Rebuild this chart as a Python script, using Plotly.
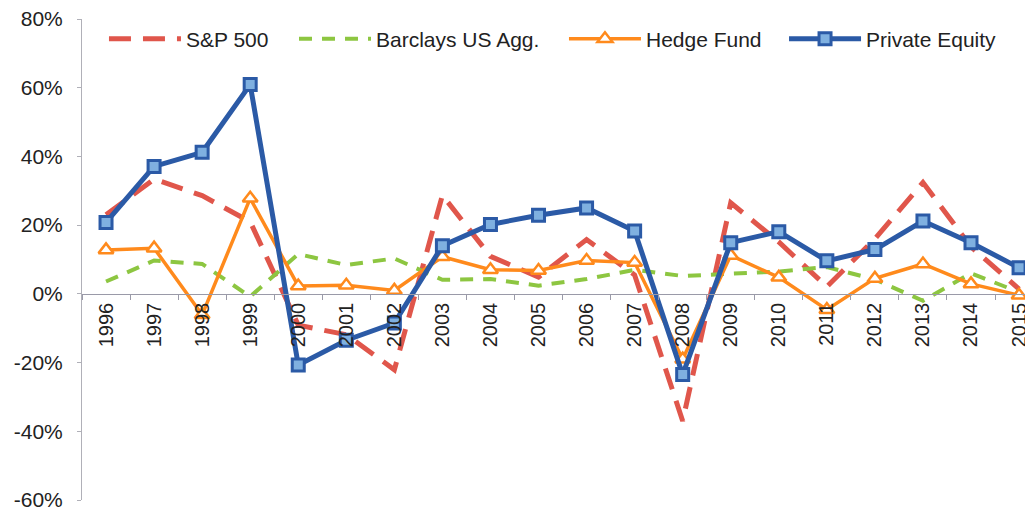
import plotly.graph_objects as go

years = [str(y) for y in range(1996, 2016)]
sp500 = [23.0, 33.4, 28.6, 21.0, -9.1, -11.9, -22.1, 28.7, 10.9, 4.9,
         15.8, 5.5, -37.0, 26.5, 15.1, 2.1, 16.0, 32.4, 13.7, 1.4]
barclays = [3.6, 9.7, 8.7, -0.8, 11.6, 8.4, 10.3, 4.1, 4.3, 2.4,
            4.3, 7.0, 5.2, 5.9, 6.5, 7.8, 4.2, -2.0, 6.0, 0.5]
hedge = [12.8, 13.3, -6.1, 27.8, 2.3, 2.5, 1.0, 10.8, 7.0, 6.8,
         9.7, 9.1, -19.0, 11.2, 4.8, -4.6, 4.5, 8.7, 2.9, -0.4]
pe = [20.8, 37.1, 41.2, 60.9, -20.7, -13.5, -8.5, 14.0, 20.2, 22.9,
      25.0, 18.3, -23.5, 14.9, 18.1, 9.6, 12.9, 21.2, 14.9, 7.6]
ytick_vals = [-60, -40, -20, 0, 20, 40, 60, 80]
ytick_text = ["-60%", "-40%", "-20%", "0%", "20%", "40%", "60%", "80%"]

FONT = "Liberation Sans, Arial, sans-serif"
TXT = "#222222"

fig = go.Figure()
fig.add_trace(go.Scatter(
    x=years, y=sp500, name="S&P 500", mode="lines", legend="legend",
    line=dict(color="#e0564b", width=5, dash="22px,12px"),
))
fig.add_trace(go.Scatter(
    x=years, y=barclays, name="Barclays US Agg.", mode="lines", legend="legend2",
    line=dict(color="#8dc641", width=4, dash="13px,10px"),
))
fig.add_trace(go.Scatter(
    x=years, y=hedge, name="Hedge Fund", mode="lines+markers", legend="legend3",
    line=dict(color="#ff8a1c", width=3.5),
    marker=dict(symbol="triangle-up", size=13, color="white",
                line=dict(color="#ff8a1c", width=2.5)),
))
fig.add_trace(go.Scatter(
    x=years, y=pe, name="Private Equity", mode="lines+markers", legend="legend4",
    line=dict(color="#2b5aa6", width=5),
    marker=dict(symbol="square", size=12, color="#7fb0e0",
                line=dict(color="#2b5aa6", width=3)),
))

def leg(xp):
    return dict(
        orientation="h", x=xp, y=0.958, xanchor="left", yanchor="middle",
        font=dict(family=FONT, size=21, color=TXT),
        itemwidth=72, bgcolor="rgba(0,0,0,0)",
    )

# page body has an 8px margin, so the figure is sized to fill the rest
fig.update_layout(
    width=1025, height=502,
    margin=dict(l=74, r=0, t=11, b=10, autoexpand=False),
    paper_bgcolor="white", plot_bgcolor="white",
    font=dict(family=FONT, size=18, color=TXT),
    showlegend=True,
    legend=leg(0.0231),
    legend2=leg(0.2229),
    legend3=leg(0.5068),
    legend4=leg(0.7382),
    xaxis=dict(
        type="category", range=[-0.5, 19.29], automargin=False,
        anchor="free", position=60 / 140,
        showline=True, linecolor="#9a9aa8", linewidth=1,
        ticks="outside", ticklen=5, tickcolor="#9a9aa8",
        tickson="boundaries", tickangle=-90,
        tickfont=dict(family=FONT, size=20, color=TXT),
        showgrid=False, zeroline=False,
    ),
    yaxis=dict(
        range=[-60, 80], tickvals=ytick_vals, ticktext=ytick_text,
        automargin=False, ticklabeloverflow="allow",
        showline=True, linecolor="#b0b0b8", linewidth=1,
        ticks="outside", ticklen=4, tickcolor="#b0b0b8",
        ticklabelstandoff=10,
        tickfont=dict(family=FONT, size=21, color=TXT),
        showgrid=False, zeroline=False,
    ),
)

fig.write_html("out.html")
